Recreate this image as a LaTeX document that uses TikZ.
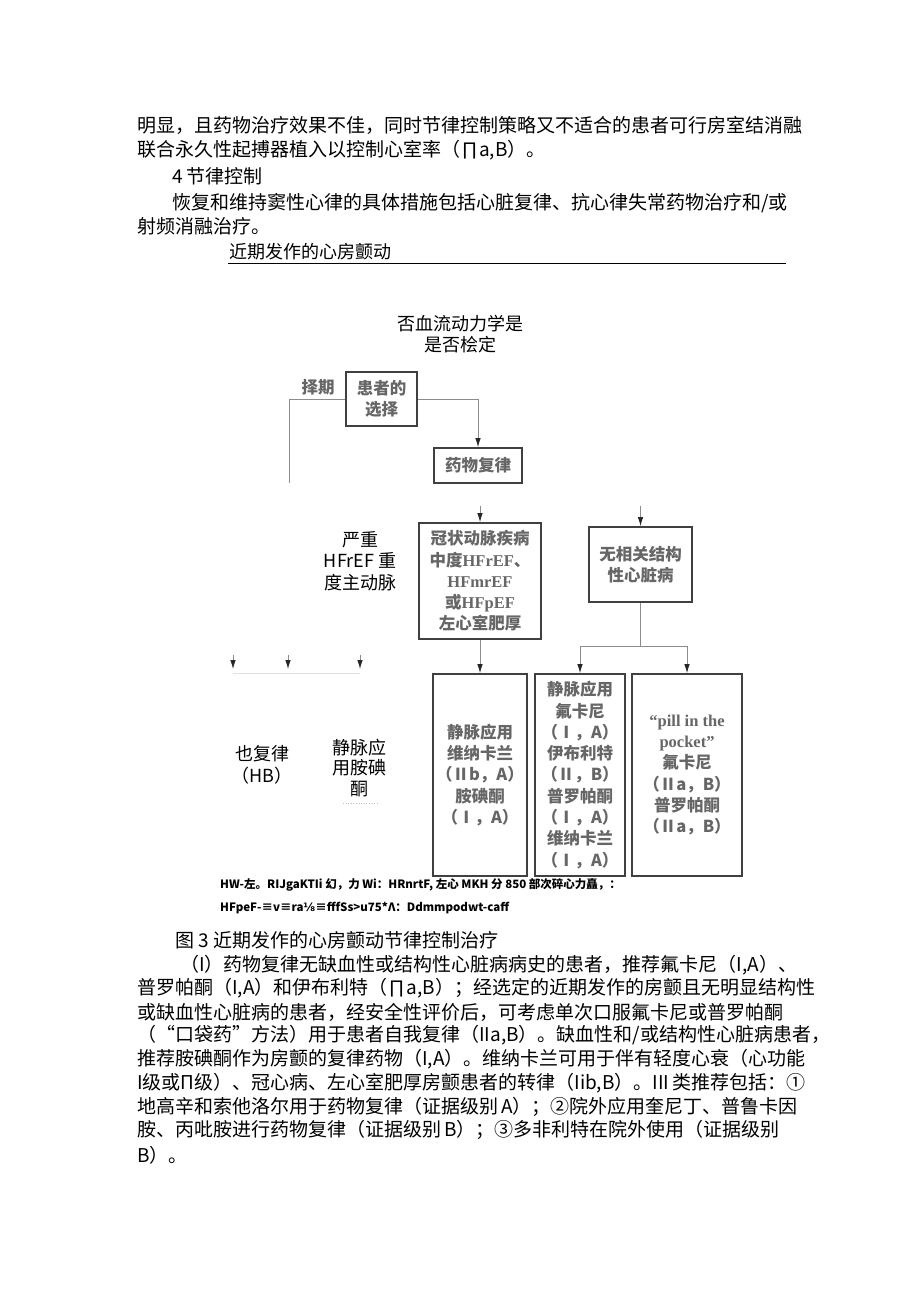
\documentclass[tikz,border=0pt]{standalone}
\usepackage{fontspec}
\setmainfont{Noto Sans CJK SC}
\newfontfamily\lsf{Liberation Serif}
\newfontfamily\dvs{DejaVu Sans}
\usetikzlibrary{arrows.meta}
\XeTeXlinebreaklocale "zh"
\XeTeXlinebreakskip=0pt plus 1pt
\newcommand{\jl}[2]{\hbox to #1pt{#2}}
\tikzset{
  txt/.style={anchor=west,inner sep=0pt,font=\fontsize{19}{24}\selectfont},
  lbl/.style={align=center,inner sep=0pt,font=\fontsize{18}{21.5}\selectfont},
  box/.style={draw=black!75,line width=1.8pt,inner sep=0pt,align=center,text=black!60,
    font=\bfseries\fontsize{16.5}{21.3}\selectfont},
  conn/.style={black!45,line width=0.8pt},
  tip/.style={-{Latex[length=9pt,width=5.5pt,color=black!85]}},
}

\begin{document}
\begin{tikzpicture}[x=1pt,y=-1pt]
  \useasboundingbox[fill=white] (0,0) rectangle (920,1301);

  \node[txt] (p1) at (137,125) {\jl{643}{明显，且药物治疗效果不佳，同时节律控制策略又不适合的患者可行房室结消融}};
  \node[txt] (p2) at (137,150) {联合永久性起搏器植入以控制心室率（∏a,B）。};
  \node[txt] (p3) at (172,176) {4 节律控制};
  \node[txt] (p4) at (172,203) {\jl{606}{恢复和维持窦性心律的具体措施包括心脏复律、抗心律失常药物治疗和/或}};
  \node[txt] (p5) at (137,226) {射频消融治疗。};
  \node[txt,font=\fontsize{18}{22}\selectfont] (head) at (229,252) {近期发作的心房颤动};
  \coordinate (r1) at (228,263);
  \coordinate (r2) at (786,263);
  \draw[line width=1pt] (r1) -- (r2);

  \node[lbl] (q) at (460,334) {否血流动力学是\\是否桧定};
  \node[box,line width=2.2pt,minimum width=71pt,minimum height=54pt] (sel) at (381.5,399) {患者的\\选择};
  \node[lbl,text=black!60,font=\bfseries\fontsize{16.5}{20}\selectfont] (elec) at (318,387) {择期};
  \node[box,minimum width=88pt,minimum height=35pt] (drug) at (478,465.5) {药物复律};
  \coordinate (lcut) at (289,483);
  \draw[conn] (sel.west) -| (lcut);
  \draw[conn,tip] (sel.east) -| (drug.north);

  \node[box,minimum width=122pt,minimum height=116pt] (cad) at (480,581)
    {冠状动脉疾病\\中度{\lsf HFrEF}、\\{\lsf HFmrEF}\\或{\lsf HFpEF}\\左心室肥厚};
  \node[box,minimum width=103pt,minimum height=75pt] (nosh) at (640.5,564.5) {无相关结构\\性心脏病};
  \node[lbl] (sev) at (360,561) {严重\\HFrEF 重\\度主动脉};
  \coordinate (t1) at (480,506);
  \coordinate (t2) at (640.5,506);
  \draw[conn,tip] (t1) -- (cad.north);
  \draw[conn,tip] (t2) -- (nosh.north);

  \node[box,minimum width=94pt,minimum height=202pt] (b1) at (480,775)
    {静脉应用\\维纳卡兰\\（Ⅱb，A）\\胺碘酮\\（Ⅰ，A）};
  \node[box,minimum width=90pt,minimum height=202pt] (b2) at (580,775)
    {静脉应用\\氟卡尼\\（Ⅰ，A）\\伊布利特\\（Ⅱ，B）\\普罗帕酮\\（Ⅰ，A）\\维纳卡兰\\（Ⅰ，A）};
  \node[box,minimum width=110pt,minimum height=202pt] (b3) at (687,775)
    {{\lsf “pill in the}\\{\lsf pocket”}\\氟卡尼\\（Ⅱa，B）\\普罗帕酮\\（Ⅱa，B）};
  \coordinate (fork) at (640.5,646);
  \draw[conn,tip] (cad.south) -- (b1.north);
  \draw[conn] (nosh.south) -- (fork);
  \draw[conn,tip] (fork) -| (b2.north);
  \draw[conn,tip] (fork) -| (b3.north);

  \coordinate (la) at (233,673);
  \coordinate (lc) at (360,673);
  \draw[black!12,line width=0.8pt] (la) -- (lc);
  \foreach \x in {233,288,360}{
    \coordinate (s\x) at (\x,655);
    \coordinate (e\x) at (\x,669);
    \draw[conn,tip] (s\x) -- (e\x);
  }
  \node[lbl] (hb) at (262,765) {也复律\\（HB）};
  \node[lbl,font=\fontsize{18}{20.5}\selectfont] (ami) at (359,768) {静脉应\\用胺碘\\酮};
  \coordinate (d1) at (343,803);
  \coordinate (d2) at (378,803);
  \draw[black!25,dotted,line width=0.6pt] (d1) -- (d2);

  \node[txt,font=\bfseries\fontsize{11.5}{14}\selectfont] (f1) at (220,885)
    {HW-左。RIJgaKTIi 幻，力 Wi：HRnrtF, 左心 MKH 分 850 部次碎心力矗，：};
  \node[txt,font=\bfseries\fontsize{11.5}{14}\selectfont] (f2) at (220,908)
    {HFpeF-≡v≡ra{\dvs ⅛}≡fffSs>u75*Λ：Ddmmpodwt-caff};

  \node[txt] (cap) at (175,940) {图 3 近期发作的心房颤动节律控制治疗};
  \node[txt] (m1) at (180,965) {\jl{596}{（I）药物复律无缺血性或结构性心脏病病史的患者，推荐氟卡尼（I,A）、}};
  \node[txt] (m2) at (137,988) {\jl{646}{普罗帕酮（I,A）和伊布利特（∏a,B）；经选定的近期发作的房颤且无明显结构性}};
  \node[txt] (m3) at (137,1012) {\jl{646}{或缺血性心脏病的患者，经安全性评价后，可考虑单次口服氟卡尼或普罗帕酮}};
  \node[txt] (m4) at (137,1035) {\jl{646}{（“口袋药”方法）用于患者自我复律（IIa,B）。缺血性和/或结构性心脏病患者，}};
  \node[txt] (m5) at (137,1059) {\jl{646}{推荐胺碘酮作为房颤的复律药物（I,A）。维纳卡兰可用于伴有轻度心衰（心功能}};
  \node[txt] (m6) at (137,1083) {\jl{646}{I级或Π级）、冠心病、左心室肥厚房颤患者的转律（Iib,B）。III 类推荐包括：①}};
  \node[txt] (m7) at (137,1107) {\jl{646}{地高辛和索他洛尔用于药物复律（证据级别 A）；②院外应用奎尼丁、普鲁卡因}};
  \node[txt] (m8) at (137,1130) {\jl{642}{胺、丙吡胺进行药物复律（证据级别 B）；③多非利特在院外使用（证据级别}};
  \node[txt] (m9) at (137,1155) {B）。};
\end{tikzpicture}
\end{document}
